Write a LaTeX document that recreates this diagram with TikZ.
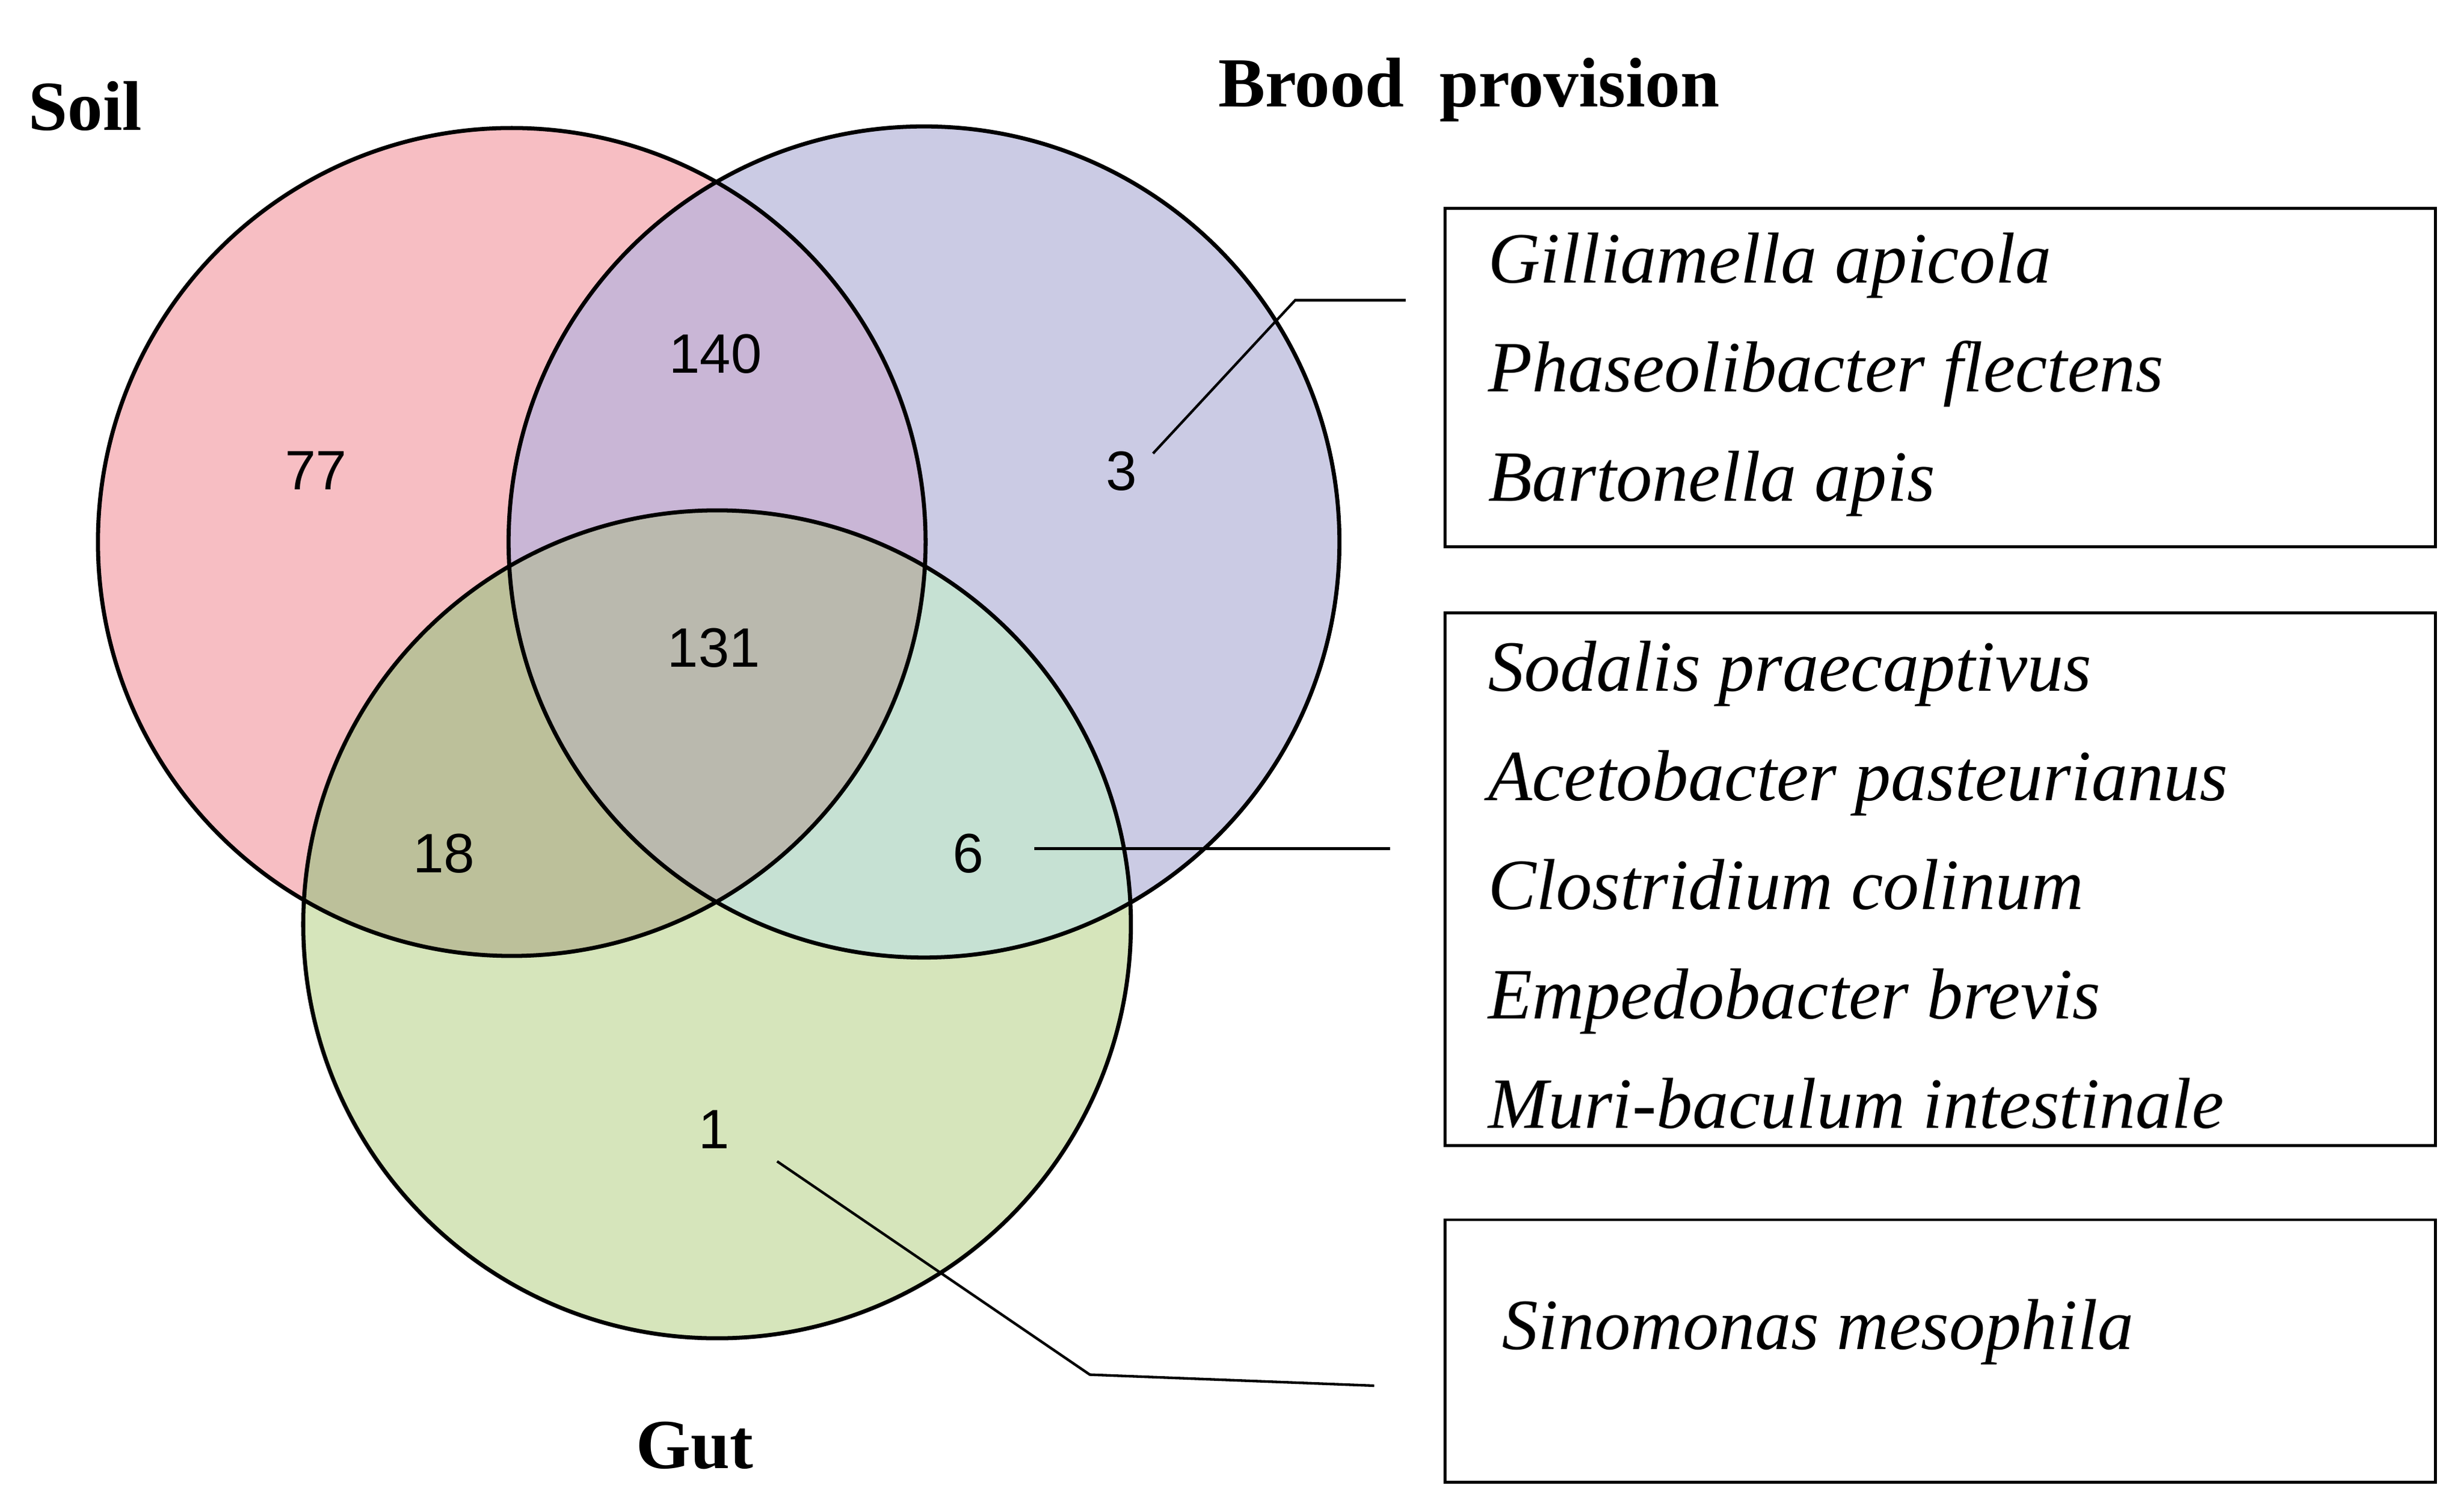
\documentclass[tikz,border=0pt]{standalone}
\usepackage{fontspec}
\setmainfont{Liberation Serif}
\setsansfont{Liberation Sans}
\begin{document}
\begin{tikzpicture}[x=0.03cm,y=-0.03cm,
  circ/.style={line width=2.2pt},
  num/.style={font=\sffamily\fontsize{30}{34}\selectfont},
  lab/.style={font=\bfseries\fontsize{38}{42}\selectfont},
  sp/.style={font=\itshape\fontsize{39}{59}\selectfont,align=left,anchor=west},
  box/.style={draw,line width=1.6pt},
  lead/.style={line width=1.4pt}]
\useasboundingbox (0,0) rectangle (1560,955);
\definecolor{cS}{HTML}{F7BEC3}\definecolor{cB}{HTML}{CBCBE4}\definecolor{cG}{HTML}{D6E5BB}
\definecolor{cSB}{HTML}{C9B6D6}\definecolor{cSG}{HTML}{BCC09A}\definecolor{cBG}{HTML}{C6E1D3}
\definecolor{cA}{HTML}{BAB9AE}
\def\Sc{(324,343) circle (262)}
\def\Bc{(585,343) circle (263)}
\def\Gc{(454,585) circle (262)}
\fill[cS] \Sc; \fill[cB] \Bc; \fill[cG] \Gc;
\begin{scope}\clip \Sc; \fill[cSB] \Bc; \fill[cSG] \Gc; \end{scope}
\begin{scope}\clip \Bc; \fill[cBG] \Gc; \end{scope}
\begin{scope}\clip \Sc; \clip \Bc; \fill[cA] \Gc; \end{scope}
\draw[circ] \Sc; \draw[circ] \Bc; \draw[circ] \Gc;
\node[lab] (soil) at (54,67) {Soil};
\node[lab] (brood) at (930,57) {Brood\ \ provision};
\node[lab] (gut) at (440,915) {Gut};
\node[num] (n77) at (200,298) {77};
\node[num] (n140) at (453,224) {140};
\node[num] (n3) at (710,298) {3};
\node[num] (n131) at (452,410) {131};
\node[num] (n18) at (281,540) {18};
\node[num] (n6) at (613,540) {6};
\node[num] (n1) at (452,715) {1};
\draw[box] (915,132) rectangle (1542,346);
\draw[box] (915,388) rectangle (1542,725);
\draw[box] (915,772) rectangle (1542,938);
\node[sp] (t1) at (938,237) {Gilliamella apicola\\Phaseolibacter flectens\\Bartonella apis};
\node[sp] (t2) at (938,560) {Sodalis praecaptivus\\Acetobacter pasteurianus\\Clostridium colinum\\Empedobacter brevis\\Muri-baculum intestinale};
\node[sp] (t3) at (947,843) {Sinomonas mesophila};
\coordinate (a1) at (730,287); \coordinate (a2) at (820,190); \coordinate (a3) at (890,190);
\coordinate (b1) at (655,537); \coordinate (b2) at (880,537);
\coordinate (c1) at (492,735); \coordinate (c2) at (690,870); \coordinate (c3) at (870,877);
\draw[lead] (a1) -- (a2) -- (a3);
\draw[lead] (b1) -- (b2);
\draw[lead] (c1) -- (c2) -- (c3);
\end{tikzpicture}
\end{document}
